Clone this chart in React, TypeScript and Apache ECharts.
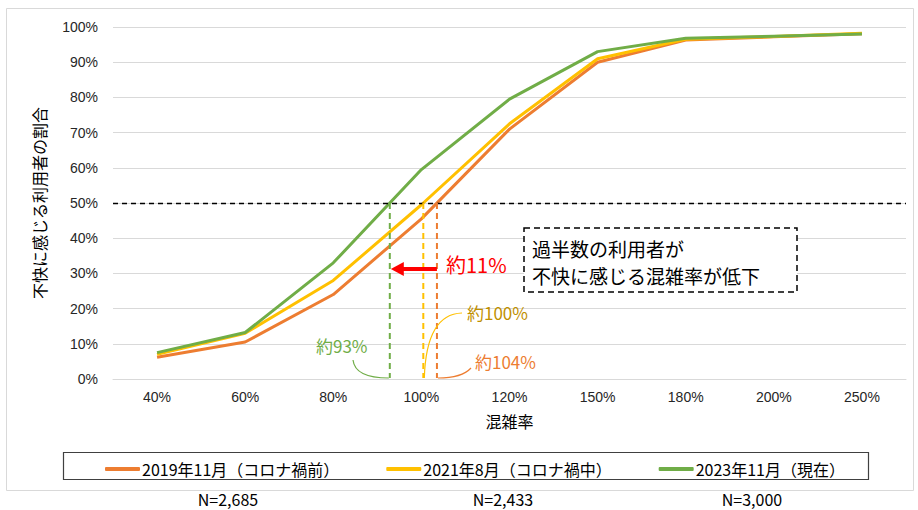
import React, { useEffect, useRef } from 'react';
import * as echarts from 'echarts';

const categories = ['40%', '60%', '80%', '100%', '120%', '150%', '180%', '200%', '250%'];
const series2019 = [6.2, 10.5, 24, 45.5, 71, 90, 96.3, 97.2, 98.1];
const series2021 = [7, 13, 28, 49.5, 72.5, 91, 96.5, 97.3, 98.2];
const series2023 = [7.5, 13.2, 33, 59.5, 79.5, 93, 96.8, 97.4, 98];
const seriesNames = ['2019年11月（コロナ禍前）', '2021年8月（コロナ禍中）', '2023年11月（現在）'];
const colors = ['#ED7D31', '#FFC000', '#70AD47'];
const sampleSizes = ['N=2,685', 'N=2,433', 'N=3,000'];
const crossLabels = ['約104%', '約100%', '約93%'];
const diffLabel = '約11%';
const calloutLines = ['過半数の利用者が', '不快に感じる混雑率が低下'];
const threshold = 50;

const JP = '"Noto Sans CJK JP", sans-serif';
const LAT = '"Liberation Sans", "Noto Sans CJK JP", sans-serif';

const W = 918;
const H = 510;
const gridLeft = 113;
const gridRight = 906;
const gridTop = 27;
const gridBottom = 379;

export default function App() {
  const ref = useRef<HTMLDivElement>(null);
  useEffect(() => {
    document.body.style.margin = '0';
    const chart = echarts.init(ref.current!, null, { renderer: 'svg' });
    const cellW = (gridRight - gridLeft) / categories.length;
    const px = (i: number) => gridLeft + (i + 0.5) * cellW;
    const py = (v: number) => gridBottom - (v / 100) * (gridBottom - gridTop);
    const crossX = (d: number[]) => {
      for (let i = 0; i < d.length - 1; i++) {
        if (d[i] < threshold && d[i + 1] >= threshold) {
          const f = (threshold - d[i]) / (d[i + 1] - d[i]);
          return px(i) + f * (px(i + 1) - px(i));
        }
      }
      return px(0);
    };
    const allSeries = [series2019, series2021, series2023];
    const xs = allSeries.map(crossX);
    const y50 = py(threshold);
    const y0 = py(0) - 1;

    const vLines = xs.map((x, k) => ({
      type: 'line',
      silent: true,
      z: 50,
      shape: { x1: x, y1: y50, x2: x, y2: y0 },
      style: { stroke: colors[k], lineWidth: 2, lineDash: [6, 4] },
    }));

    const arrowY = 269;
    const graphic: any[] = [
      {
        type: 'rect', silent: true, z: -10,
        shape: { x: 6.5, y: 8.5, width: 907, height: 482 },
        style: { fill: 'none', stroke: '#D9D9D9', lineWidth: 1 },
      },
      {
        type: 'rect', silent: true, z: 1,
        shape: { x: 63.5, y: 452.5, width: 805, height: 27 },
        style: { fill: 'none', stroke: '#404040', lineWidth: 1.2 },
      },
      ...sampleSizes.map((t, i) => ({
        type: 'text', silent: true,
        x: [228, 503, 752][i], y: 499,
        style: { text: t, fill: '#000', font: `16px ${JP}`, align: 'center', verticalAlign: 'middle' },
      })),
      ...vLines,
      // red arrow
      {
        type: 'line', silent: true, z: 60,
        shape: { x1: xs[0], y1: arrowY, x2: xs[2] + 12, y2: arrowY },
        style: { stroke: '#FF0000', lineWidth: 4 },
      },
      {
        type: 'polygon', silent: true, z: 60,
        shape: { points: [[xs[2] + 1, arrowY], [xs[2] + 14, arrowY - 7], [xs[2] + 14, arrowY + 7]] },
        style: { fill: '#FF0000' },
      },
      {
        type: 'text', silent: true, z: 60, x: 446, y: 264,
        style: { text: diffLabel, fill: '#FF0000', font: `20px ${JP}`, align: 'left', verticalAlign: 'middle' },
      },
      // leader curves
      {
        type: 'bezierCurve', silent: true, z: 55,
        shape: { x1: 353, y1: 360, cpx1: 355, cpy1: 378, x2: xs[2] - 1, y2: 378 },
        style: { stroke: colors[2], lineWidth: 1.2, fill: 'none' },
      },
      {
        type: 'bezierCurve', silent: true, z: 55,
        shape: { x1: xs[1] + 1, y1: 378, cpx1: xs[1] + 3, cpy1: 314, x2: 462, y2: 313 },
        style: { stroke: colors[1], lineWidth: 1.2, fill: 'none' },
      },
      {
        type: 'bezierCurve', silent: true, z: 55,
        shape: { x1: xs[0] + 1, y1: 378, cpx1: 462, cpy1: 378, x2: 471, y2: 368 },
        style: { stroke: colors[0], lineWidth: 1.2, fill: 'none' },
      },
      {
        type: 'text', silent: true, z: 60, x: 316, y: 345,
        style: { text: crossLabels[2], fill: colors[2], font: `17px ${JP}`, align: 'left', verticalAlign: 'middle' },
      },
      {
        type: 'text', silent: true, z: 60, x: 467, y: 312,
        style: { text: crossLabels[1], fill: '#BF9000', font: `17px ${JP}`, align: 'left', verticalAlign: 'middle' },
      },
      {
        type: 'text', silent: true, z: 60, x: 475, y: 361,
        style: { text: crossLabels[0], fill: colors[0], font: `17px ${JP}`, align: 'left', verticalAlign: 'middle' },
      },
      // callout box
      {
        type: 'rect', silent: true, z: 60,
        shape: { x: 524, y: 228, width: 273, height: 64 },
        style: { fill: '#fff', stroke: '#000', lineWidth: 1.5, lineDash: [6, 4] },
      },
      ...calloutLines.map((t, i) => ({
        type: 'text', silent: true, z: 61, x: 532, y: 248.5 + i * 27,
        style: { text: t, fill: '#000', font: `19px ${JP}`, align: 'left', verticalAlign: 'middle' },
      })),
    ];

    const option: any = {
      animation: false,
      backgroundColor: '#fff',
      color: colors,
      grid: { left: gridLeft, right: W - gridRight, top: gridTop, bottom: H - gridBottom, containLabel: false },
      legend: {
        left: 100,
        top: 456,
        itemWidth: 35,
        itemHeight: 4,
        itemGap: 47,
        icon: 'roundRect',
        textStyle: { fontSize: 16, fontFamily: JP, color: '#000', padding: [0, 0, 0, -3] },
        data: seriesNames,
      },
      xAxis: {
        type: 'category',
        data: categories,
        boundaryGap: true,
        name: '混雑率',
        nameLocation: 'middle',
        nameGap: 34,
        nameTextStyle: { fontSize: 16, fontFamily: JP, color: '#000' },
        axisLine: { show: true, lineStyle: { color: '#D9D9D9', width: 1 } },
        axisTick: { show: false },
        axisLabel: { fontSize: 14, fontFamily: LAT, color: '#262626', margin: 11 },
      },
      yAxis: {
        type: 'value',
        min: 0,
        max: 100,
        interval: 10,
        name: '不快に感じる利用者の割合',
        nameLocation: 'middle',
        nameGap: 66,
        nameTextStyle: { fontSize: 16, fontFamily: JP, color: '#000' },
        axisLine: { show: false },
        axisTick: { show: false },
        axisLabel: { formatter: '{value}%', fontSize: 14, fontFamily: LAT, color: '#262626', margin: 15 },
        splitLine: { lineStyle: { color: '#D9D9D9', width: 1 } },
      },
      series: [
        {
          name: seriesNames[0], type: 'line', data: series2019, symbol: 'none',
          lineStyle: { width: 3, color: colors[0] }, itemStyle: { color: colors[0] }, z: 2,
        },
        {
          name: seriesNames[1], type: 'line', data: series2021, symbol: 'none',
          lineStyle: { width: 3, color: colors[1] }, itemStyle: { color: colors[1] }, z: 3,
        },
        {
          name: seriesNames[2], type: 'line', data: series2023, symbol: 'none',
          lineStyle: { width: 3, color: colors[2] }, itemStyle: { color: colors[2] }, z: 4,
          markLine: {
            silent: true,
            symbol: 'none',
            label: { show: false },
            lineStyle: { color: '#000', type: [5, 4], width: 1.3 },
            data: [{ yAxis: threshold }],
          },
        },
      ],
      graphic,
    };
    chart.setOption(option);
    return () => chart.dispose();
  }, []);
  return <div ref={ref} style={{ width: W, height: H }} />;
}
